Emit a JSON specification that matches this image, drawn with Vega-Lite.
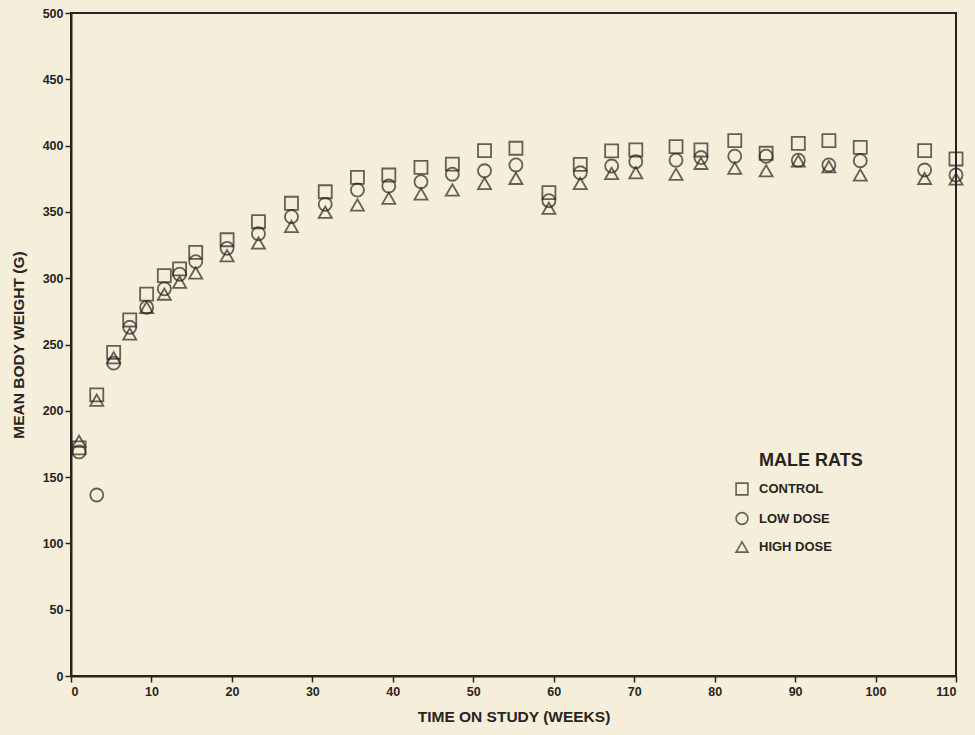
{
  "$schema": "https://vega.github.io/schema/vega-lite/v6.json",
  "width": 885,
  "height": 663,
  "autosize": {"type": "none"},
  "padding": {"left": 71, "top": 13, "right": 19, "bottom": 59},
  "background": "#f4eedb",
  "config": {
    "view": {"stroke": "#2a2420", "strokeWidth": 2},
    "font": "Liberation Sans",
    "axis": {
      "domainColor": "#2a2420", "domainWidth": 2,
      "tickColor": "#2a2420", "tickWidth": 1.5, "tickSize": 6,
      "labelFont": "Liberation Sans", "labelFontWeight": "bold", "labelFontSize": 12.5, "labelColor": "#2a2420",
      "titleFont": "Liberation Sans", "titleFontWeight": "bold", "titleFontSize": 15.5, "titleColor": "#2a2420",
      "grid": false
    }
  },
  "data": {"values": [
    {"week": 1, "group": "CONTROL", "weight": 172}, {"week": 1, "group": "LOW DOSE", "weight": 169}, {"week": 1, "group": "HIGH DOSE", "weight": 177},
    {"week": 3.2, "group": "CONTROL", "weight": 212}, {"week": 3.2, "group": "LOW DOSE", "weight": 136.5}, {"week": 3.2, "group": "HIGH DOSE", "weight": 208},
    {"week": 5.3, "group": "CONTROL", "weight": 244}, {"week": 5.3, "group": "LOW DOSE", "weight": 236}, {"week": 5.3, "group": "HIGH DOSE", "weight": 240},
    {"week": 7.3, "group": "CONTROL", "weight": 268.5}, {"week": 7.3, "group": "LOW DOSE", "weight": 263}, {"week": 7.3, "group": "HIGH DOSE", "weight": 258},
    {"week": 9.4, "group": "CONTROL", "weight": 288}, {"week": 9.4, "group": "LOW DOSE", "weight": 278}, {"week": 9.4, "group": "HIGH DOSE", "weight": 278},
    {"week": 11.6, "group": "CONTROL", "weight": 302}, {"week": 11.6, "group": "LOW DOSE", "weight": 292}, {"week": 11.6, "group": "HIGH DOSE", "weight": 288},
    {"week": 13.5, "group": "CONTROL", "weight": 307}, {"week": 13.5, "group": "LOW DOSE", "weight": 303}, {"week": 13.5, "group": "HIGH DOSE", "weight": 297},
    {"week": 15.5, "group": "CONTROL", "weight": 319.5}, {"week": 15.5, "group": "LOW DOSE", "weight": 312.5}, {"week": 15.5, "group": "HIGH DOSE", "weight": 304},
    {"week": 19.4, "group": "CONTROL", "weight": 329}, {"week": 19.4, "group": "LOW DOSE", "weight": 322.5}, {"week": 19.4, "group": "HIGH DOSE", "weight": 317},
    {"week": 23.3, "group": "CONTROL", "weight": 342.6}, {"week": 23.3, "group": "LOW DOSE", "weight": 333.5}, {"week": 23.3, "group": "HIGH DOSE", "weight": 326.5},
    {"week": 27.4, "group": "CONTROL", "weight": 356.5}, {"week": 27.4, "group": "LOW DOSE", "weight": 346.4}, {"week": 27.4, "group": "HIGH DOSE", "weight": 339},
    {"week": 31.6, "group": "CONTROL", "weight": 365.2}, {"week": 31.6, "group": "LOW DOSE", "weight": 355.7}, {"week": 31.6, "group": "HIGH DOSE", "weight": 349.7},
    {"week": 35.6, "group": "CONTROL", "weight": 376}, {"week": 35.6, "group": "LOW DOSE", "weight": 366.5}, {"week": 35.6, "group": "HIGH DOSE", "weight": 355.2},
    {"week": 39.5, "group": "CONTROL", "weight": 377.8}, {"week": 39.5, "group": "LOW DOSE", "weight": 369.5}, {"week": 39.5, "group": "HIGH DOSE", "weight": 360.3},
    {"week": 43.5, "group": "CONTROL", "weight": 383.6}, {"week": 43.5, "group": "LOW DOSE", "weight": 372.8}, {"week": 43.5, "group": "HIGH DOSE", "weight": 363.5},
    {"week": 47.4, "group": "CONTROL", "weight": 386}, {"week": 47.4, "group": "LOW DOSE", "weight": 378.4}, {"week": 47.4, "group": "HIGH DOSE", "weight": 366.5},
    {"week": 51.4, "group": "CONTROL", "weight": 396.2}, {"week": 51.4, "group": "LOW DOSE", "weight": 381}, {"week": 51.4, "group": "HIGH DOSE", "weight": 371.5},
    {"week": 55.3, "group": "CONTROL", "weight": 398}, {"week": 55.3, "group": "LOW DOSE", "weight": 385.4}, {"week": 55.3, "group": "HIGH DOSE", "weight": 375.3},
    {"week": 59.4, "group": "CONTROL", "weight": 364.5}, {"week": 59.4, "group": "LOW DOSE", "weight": 358.5}, {"week": 59.4, "group": "HIGH DOSE", "weight": 352.7},
    {"week": 63.3, "group": "CONTROL", "weight": 385.9}, {"week": 63.3, "group": "LOW DOSE", "weight": 379.5}, {"week": 63.3, "group": "HIGH DOSE", "weight": 371.5},
    {"week": 67.2, "group": "CONTROL", "weight": 396}, {"week": 67.2, "group": "LOW DOSE", "weight": 384.6}, {"week": 67.2, "group": "HIGH DOSE", "weight": 379},
    {"week": 70.2, "group": "CONTROL", "weight": 396.7}, {"week": 70.2, "group": "LOW DOSE", "weight": 387.9}, {"week": 70.2, "group": "HIGH DOSE", "weight": 379.6},
    {"week": 75.2, "group": "CONTROL", "weight": 399.2}, {"week": 75.2, "group": "LOW DOSE", "weight": 389}, {"week": 75.2, "group": "HIGH DOSE", "weight": 378.4},
    {"week": 78.3, "group": "CONTROL", "weight": 396.7}, {"week": 78.3, "group": "LOW DOSE", "weight": 391}, {"week": 78.3, "group": "HIGH DOSE", "weight": 386.6},
    {"week": 82.5, "group": "CONTROL", "weight": 403.7}, {"week": 82.5, "group": "LOW DOSE", "weight": 392}, {"week": 82.5, "group": "HIGH DOSE", "weight": 382.9},
    {"week": 86.4, "group": "CONTROL", "weight": 394.2}, {"week": 86.4, "group": "LOW DOSE", "weight": 392}, {"week": 86.4, "group": "HIGH DOSE", "weight": 381},
    {"week": 90.4, "group": "CONTROL", "weight": 401.7}, {"week": 90.4, "group": "LOW DOSE", "weight": 389}, {"week": 90.4, "group": "HIGH DOSE", "weight": 388.4},
    {"week": 94.2, "group": "CONTROL", "weight": 403.7}, {"week": 94.2, "group": "LOW DOSE", "weight": 385.4}, {"week": 94.2, "group": "HIGH DOSE", "weight": 384.1},
    {"week": 98.1, "group": "CONTROL", "weight": 398.7}, {"week": 98.1, "group": "LOW DOSE", "weight": 388.6}, {"week": 98.1, "group": "HIGH DOSE", "weight": 377.8},
    {"week": 106.1, "group": "CONTROL", "weight": 396.2}, {"week": 106.1, "group": "LOW DOSE", "weight": 381.6}, {"week": 106.1, "group": "HIGH DOSE", "weight": 375.3},
    {"week": 110, "group": "CONTROL", "weight": 389.9}, {"week": 110, "group": "LOW DOSE", "weight": 377.8}, {"week": 110, "group": "HIGH DOSE", "weight": 374.8}
  ]},
  "mark": {"type": "point", "filled": false, "strokeWidth": 1.8, "color": "#2a2420", "size": 170, "clip": false},
  "encoding": {
    "x": {
      "field": "week", "type": "quantitative",
      "scale": {"domain": [0, 110], "nice": false, "zero": false},
      "axis": {"values": [0, 10, 20, 30, 40, 50, 60, 70, 80, 90, 100, 110], "title": "TIME ON STUDY (WEEKS)", "labelPadding": 3, "titlePadding": 12}
    },
    "y": {
      "field": "weight", "type": "quantitative",
      "scale": {"domain": [0, 500], "nice": false},
      "axis": {"values": [0, 50, 100, 150, 200, 250, 300, 350, 400, 450, 500], "title": "MEAN BODY WEIGHT (G)", "labelPadding": 2, "titlePadding": 16}
    },
    "shape": {
      "field": "group", "type": "nominal",
      "scale": {"domain": ["CONTROL", "LOW DOSE", "HIGH DOSE"], "range": ["square", "circle", "triangle-up"]},
      "legend": {
        "title": "MALE RATS", "orient": "none", "legendX": 688, "legendY": 439,
        "titleFont": "Liberation Sans", "titleFontWeight": "bold", "titleFontSize": 18, "titleColor": "#2a2420", "titlePadding": 12,
        "titleLimit": 300,
        "labelFont": "Liberation Sans", "labelFontWeight": "bold", "labelFontSize": 13, "labelColor": "#2a2420",
        "symbolSize": 140, "symbolStrokeWidth": 1.6, "symbolStrokeColor": "#2a2420", "symbolFillColor": "transparent",
        "symbolOffset": -24,
        "rowPadding": 9.5, "labelOffset": 10, "padding": 0
      }
    }
  }
}
